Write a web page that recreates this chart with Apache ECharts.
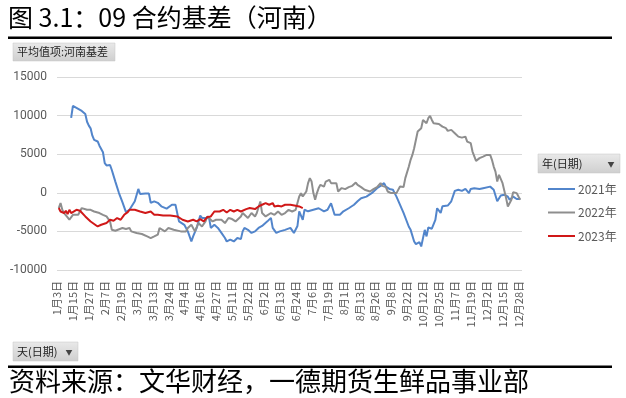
<!DOCTYPE html>
<html>
<head>
<meta charset="utf-8">
<script src="https://cdn.jsdelivr.net/npm/echarts@6/dist/echarts.min.js"></script>
<style>
  html, body { margin: 0; padding: 0; background: #fff; }
  #chart { width: 626px; height: 398px; }
</style>
</head>
<body>
<div id="chart"></div>
<script>
// x 轴刻度标签（每 9 个交易日一个）
var tickLabels = ['1月3日', '1月15日', '1月27日', '2月7日', '2月19日', '3月2日', '3月13日', '3月24日',
  '4月4日', '4月16日', '4月27日', '5月11日', '5月22日', '6月2日', '6月13日', '6月24日', '7月6日',
  '7月19日', '8月1日', '8月13日', '8月26日', '9月8日', '9月22日', '10月12日', '10月25日', '11月7日',
  '11月19日', '12月2日', '12月15日', '12月28日'];

// 2021年 (日期序号, 基差)
var day2021 = [8, 9, 10, 11, 12, 14, 15, 16, 17, 18, 19, 20, 21, 23, 24, 25, 26, 27, 28, 29, 30, 31, 33, 35, 37, 39,
  41, 44, 46, 47, 48, 50, 51, 52, 53, 55, 57, 59, 62, 65, 67, 68, 69, 72, 74, 76, 77, 79, 81, 82, 83, 86, 87, 89,
  91, 93, 95, 96, 98, 100, 102, 104, 105, 106, 108, 110, 112, 114, 116, 119, 121, 122, 124, 126, 129, 132, 134,
  136, 137, 139, 140, 142, 145, 148, 151, 153, 155, 157, 160, 162, 165, 168, 170, 172, 175, 178, 181, 183, 185,
  186, 188, 190, 192, 196, 199, 200, 202, 203, 205, 206, 208, 209, 210, 212, 214, 215, 217, 218, 221, 223, 225,
  227, 229, 231, 233, 234, 236, 239, 241, 242, 245, 247, 249, 250, 251, 253, 255, 256, 258, 260, 261, 262];
var basis2021 = [9700, 11250, 11250, 11000, 10850, 10600, 10850, 10200, 9200, 8700, 8350, 7400, 6850, 6650, 6100,
  6200, 5250, 3850, 3550, 3400, 3600, 2950, 1450, 0, -1200, -2500, -2200, -1100, 500, -150, -250, -100, -350,
  -100, -1300, -1100, -1300, -1750, -2050, -1550, -1550, -1750, -3700, -4150, -5000, -6300, -5650, -4550, -2950,
  -3250, -3500, -3250, -4550, -4150, -4550, -5200, -5850, -6300, -6050, -6300, -5850, -6000, -5000, -4550, -4800,
  -5200, -5000, -4550, -4300, -3700, -3250, -4550, -5200, -5000, -4800, -4550, -5200, -4300, -2400, -3500,
  -2200, -2400, -2200, -2000, -2400, -2200, -1350, -2850, -2850, -2400, -2000, -1550, -1100, -700, -500, -50,
  600, 900, 1250, 800, 500, 400, -500, -2600, -4400, -4800, -6300, -6650, -6400, -6950, -4800, -5650, -4500,
  -4650, -3500, -2000, -2600, -1750, -1650, -1100, 250, 400, 250, 500, -50, 500, 600, 500, 600, 850, 800, 400,
  -1100, -1350, -350, -250, -500, -900, -500, -800, -600, -800];

// 2022年
var day2022 = [1, 2, 3, 4, 6, 7, 9, 10, 12, 14, 15, 17, 19, 21, 24, 26, 28, 30, 31, 33, 37, 39, 41, 42, 45, 48, 51,
  53, 55, 57, 58, 61, 63, 66, 67, 70, 73, 74, 76, 78, 80, 82, 84, 85, 88, 90, 93, 95, 97, 99, 101, 104, 105, 108,
  110, 112, 113, 115, 116, 118, 121, 123, 125, 127, 129, 131, 133, 135, 136, 137, 138, 139, 141, 142, 143, 144,
  145, 146, 147, 148, 149, 151, 152, 154, 155, 156, 158, 159, 160, 161, 163, 165, 167, 169, 170, 172, 174, 177,
  179, 181, 183, 184, 186, 187, 189, 190, 192, 194, 195, 196, 197, 199, 200, 201, 202, 203, 204, 206, 207, 208,
  209, 210, 211, 212, 213, 216, 218, 220, 221, 223, 225, 227, 229, 231, 232, 234, 235, 237, 239, 241, 243, 245,
  246, 247, 248, 249, 250, 251, 252, 254, 255, 256, 257, 258, 259, 260, 261, 262];
var basis2022 = [-1980, -1330, -2200, -2620, -3190, -3490, -2850, -3060, -2850, -1980, -1770, -2200, -2200, -2420,
  -2620, -2850, -3060, -3710, -4780, -4910, -4560, -4690, -4560, -5000, -5210, -5340, -5650, -5860, -5650, -5430,
  -4560, -5000, -4560, -4780, -5000, -5000, -5000, -4560, -4140, -5000, -3920, -4360, -3710, -3060, -3710, -3490,
  -3490, -3920, -3270, -3400, -3710, -3060, -2620, -3270, -2620, -3060, -2620, -1120, -2620, -3060, -2620, -2850,
  -2420, -2850, -2620, -2200, -2420, -2200, -1330, -480, -40, -480, 170, 1250, 1900, 1460, -40, -900, -40, 610,
  1030, 810, 1460, 1680, 1250, 1030, 1250, 170, -40, 610, 480, 740, 900, 1330, 1030, 740, 390, 170, 480, 740,
  1250, 900, 740, 170, -40, 170, -40, 810, 900, 740, 1900, 3400, 4270, 4910, 5780, 5990, 7930, 8370, 9440, 9660,
  9010, 9660, 9960, 9440, 9010, 8920, 8570, 8370, 8020, 8150, 7720, 7280, 7150, 7280, 6630, 6430, 5340, 4140,
  4490, 4690, 4910, 4910, 4270, 3400, 2750, 1460, 2330, 2110, 1250, -690, -1770, -1550, -900, 90, 260, -40, -480,
  -900];

// 2023年
var day2023 = [1, 2, 3, 4, 5, 6, 7, 8, 9, 11, 12, 13, 16, 19, 23, 25, 28, 30, 32, 34, 36, 38, 40, 41, 44, 47, 50,
  53, 55, 57, 60, 64, 68, 71, 74, 77, 79, 81, 83, 84, 85, 87, 89, 90, 92, 94, 96, 98, 100, 102, 104, 105, 107, 109,
  112, 114, 116, 118, 120, 122, 123, 125, 127, 129, 132, 135, 137, 139];
var basis2023 = [-1980, -2420, -2200, -2620, -2330, -2750, -2200, -2620, -2420, -2200, -1980, -2330, -3060, -3710,
  -4360, -4140, -3920, -3490, -3620, -3270, -3490, -2850, -2500, -2200, -2200, -2420, -2620, -2420, -2850, -2850,
  -2940, -2940, -3060, -3490, -3710, -3490, -3710, -3400, -3710, -3400, -3140, -3060, -2420, -2620, -2420, -2200,
  -2550, -2200, -2420, -2200, -2420, -2200, -2110, -1980, -2110, -1770, -1550, -1330, -1550, -1330, -1770, -1680,
  -1770, -1550, -1550, -1680, -1770, -1980];

var yTicks = { min: -10000, max: 15000, step: 5000 };

function pairs(xs, ys) {
  return xs.map(function (x, i) { return [x, ys[i]]; });
}

var cjk = '"Noto Sans CJK SC", "Microsoft YaHei", sans-serif';
var btnFill = new echarts.graphic.LinearGradient(0, 0, 0, 1, [
  { offset: 0, color: '#e9e9e9' }, { offset: 1, color: '#cfcfcf' }
]);

function button(x, y, w, h, text, arrow) {
  var kids = [
    { type: 'rect', shape: { x: x, y: y, width: w, height: h }, style: { fill: btnFill, stroke: '#c4c4c4', lineWidth: 0.5 } },
    { type: 'text', x: x + 4, y: y + h / 2, style: { text: text, font: '11px ' + cjk, fill: '#222', verticalAlign: 'middle' } }
  ];
  if (arrow) {
    kids.push({ type: 'text', x: x + w - 9, y: y + h / 2 + 1, style: { text: '▼', font: '7px ' + cjk, fill: '#444', align: 'center', verticalAlign: 'middle' } });
  }
  return { type: 'group', children: kids };
}

var chart = echarts.init(document.getElementById('chart'));
chart.setOption({
  backgroundColor: '#fff',
  animation: false,
  grid: { left: 57, right: 104, top: 77, bottom: 128, outerBoundsMode: 'none' },
  xAxis: {
    type: 'value',
    min: 0,
    max: 263,
    interval: 9,
    axisLine: { show: false },
    axisTick: { show: false },
    splitLine: { show: false },
    axisLabel: {
      rotate: 90,
      margin: 11,
      color: '#595959',
      fontSize: 11,
      fontFamily: cjk,
      showMaxLabel: false,
      formatter: function (v) {
        var k = v / 9;
        return (v % 9 === 0 && k < tickLabels.length) ? tickLabels[k] : '';
      }
    }
  },
  yAxis: {
    type: 'value',
    min: yTicks.min,
    max: yTicks.max,
    interval: yTicks.step,
    axisLine: { show: false },
    axisTick: { show: false },
    splitLine: { lineStyle: { color: '#d9d9d9', width: 1 } },
    axisLabel: {
      color: '#595959', fontSize: 12, fontFamily: 'Roboto, "Noto Sans", sans-serif', margin: 10,
      formatter: function (v) { return String(v); }
    }
  },
  legend: {
    orient: 'vertical',
    left: 543,
    top: 178,
    icon: 'rect',
    itemWidth: 27,
    itemHeight: 2,
    itemGap: 11.5,
    textStyle: { color: '#595959', fontSize: 12, fontFamily: cjk, padding: [0, 0, 0, -2] },
    data: ['2021年', '2022年', '2023年']
  },
  series: [
    { name: '2021年', type: 'line', symbol: 'none', data: pairs(day2021, basis2021), lineStyle: { width: 2, color: '#5285cb' }, itemStyle: { color: '#5285cb' } },
    { name: '2022年', type: 'line', symbol: 'none', data: pairs(day2022, basis2022), lineStyle: { width: 2, color: '#8e8e8e' }, itemStyle: { color: '#8e8e8e' } },
    { name: '2023年', type: 'line', symbol: 'none', data: pairs(day2023, basis2023), lineStyle: { width: 2, color: '#d01818' }, itemStyle: { color: '#d01818' } }
  ],
  graphic: [
    { type: 'text', left: 8, top: 5, style: { text: '图 3.1：09 合约基差（河南）', font: '25px ' + cjk, fill: '#000' } },
    { type: 'rect', shape: { x: 8, y: 36.5, width: 604, height: 2.5 }, style: { fill: '#000' } },
    button(13, 43, 102, 18, '平均值项:河南基差', false),
    button(538, 154, 82, 19, '年(日期)', true),
    button(13, 342, 65, 19, '天(日期)', true),
    { type: 'rect', shape: { x: 8, y: 365.5, width: 604, height: 2.5 }, style: { fill: '#000' } },
    { type: 'text', left: 9, top: 368, style: { text: '资料来源：文华财经，一德期货生鲜品事业部', font: '26px ' + cjk, fill: '#000' } }
  ]
});
</script>
</body>
</html>
